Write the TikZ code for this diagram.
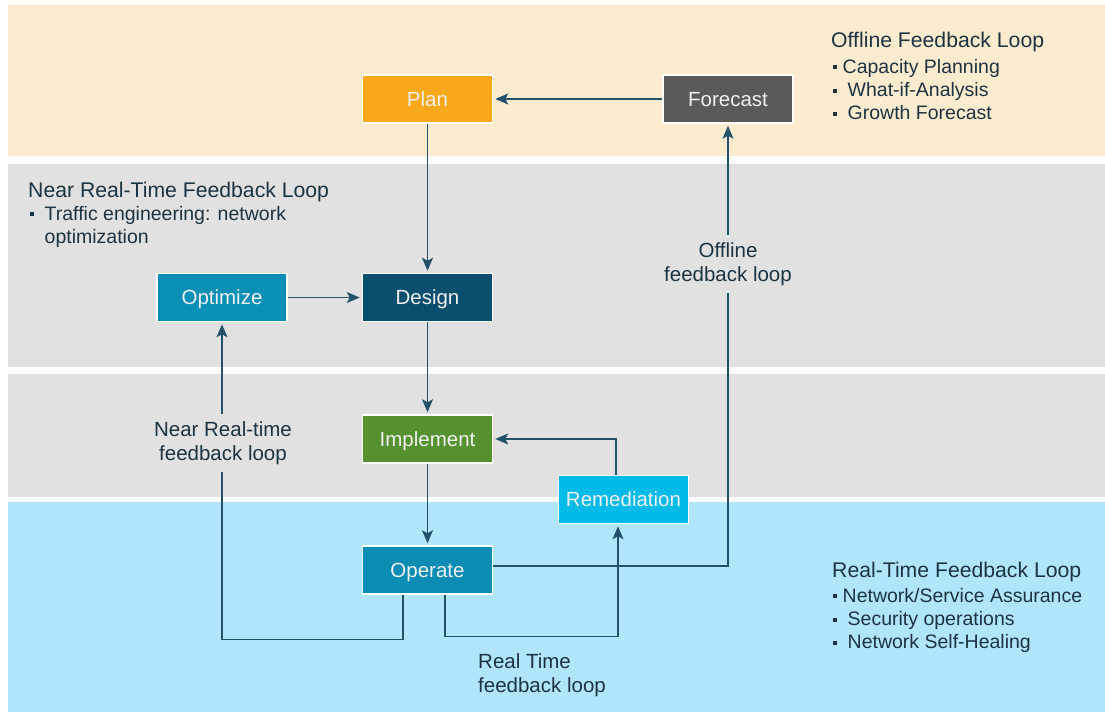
\documentclass[tikz,border=0pt]{standalone}
\usepackage{fontspec}
\setmainfont{Liberation Sans}
\usepackage{xcolor}
\usepackage{tikz}
\usetikzlibrary{arrows.meta,calc}

\definecolor{bgpeach}{HTML}{FDEBD0}
\definecolor{bggray}{HTML}{E1E1E1}
\definecolor{bgblue}{HTML}{B1E5FB}
\definecolor{cplan}{HTML}{F9A81B}
\definecolor{cfore}{HTML}{5A5A5A}
\definecolor{copt}{HTML}{0A8FB5}
\definecolor{cdes}{HTML}{0C4E6E}
\definecolor{cimpl}{HTML}{55912F}
\definecolor{crem}{HTML}{00BAE8}
\definecolor{cop}{HTML}{0A8CB3}
\definecolor{lnc}{HTML}{24516A}
\definecolor{txc}{HTML}{1C3342}

\newcommand{\bul}{\rule[0.2em]{4pt}{4pt}\hspace{5.5pt}}
\newcommand{\bulfont}{\fontsize{19.5}{23.3}\selectfont}
\newcommand{\headfont}{\fontsize{21.2}{24}\selectfont}

\begin{document}
\begin{tikzpicture}[
x=1pt,y=-1pt,
font=\fontsize{20.5}{24}\selectfont,
>={Stealth[length=13pt,width=11pt,inset=3pt]},
box/.style={
    rectangle,minimum width=130pt,minimum height=48pt,draw=white,line width=1.5pt,text=white!94!black,text height=14pt,text depth=0pt
},
conn/.style={
    ->,line width=1.3pt,draw=lnc,shorten >=2pt
},
lbl/.style={
    align=center,text=txc,fill=bggray,inner xsep=2pt,inner ysep=7pt
},
info/.style={
    align=left,text=txc,anchor=north west,inner sep=0pt
}
]
    \useasboundingbox (0,0) rectangle (1105,712);
    \fill[bgpeach] (8,5) rectangle (1105,156);
    \fill[bggray] (8,164) rectangle (1105,367);
    \fill[bggray] (8,374) rectangle (1105,497);
    \fill[bgblue] (8,502) rectangle (1105,712);

    \node(Plan)[box,fill=cplan] at (427.5,99){Plan};
    \node(Fore)[box,fill=cfore] at (728,99){Forecast};
    \node(Opt)[box,fill=copt] at (222,297.5){Optimize};
    \node(Des)[box,fill=cdes] at (427.5,297.5){Design};
    \node(Impl)[box,fill=cimpl] at (427.5,439){Implement};
    \node(Rem)[box,fill=crem] at (623.5,499.5){Remediation};
    \node(Op)[box,fill=cop] at (427.5,570){Operate};

    \draw[conn] (Fore.west) -- (Plan.east);
    \draw[conn] (Plan.south) -- (Des.north);
    \draw[conn] (Opt.east) -- (Des.west);
    \draw[conn] (Des.south) -- (Impl.north);
    \draw[conn] (Impl.south) -- (Op.north);
    \draw[conn] ([xshift=-7.5pt]Rem.north) |- (Impl.east);
    \draw[conn] ([xshift=17.5pt]Op.south) -- ++(0,42) -| ([xshift=-5.5pt]Rem.south);
    \draw[conn] ([xshift=-24.5pt]Op.south) -- ++(0,45) -| (Opt.south);
    \draw[conn] ([yshift=4pt]Op.east) -| (Fore.south);

    \node(OffL)[lbl] at (728,264){Offline\\feedback loop};
    \node(NrtL)[lbl] at (223,443){Near Real-time\\feedback loop};
    \node(RtL)[info] at (478,653){Real Time\\feedback loop};

    \node(OffH)[info,font=\headfont] at (831,32){Offline Feedback Loop};
    \node(OffB)[info,font=\bulfont] at (833,59){\bul Capacity Planning\\\bul\hspace{5pt}What-if-Analysis\\\bul\hspace{5pt}Growth Forecast};
    \node(NrtH)[info,font=\headfont] at (28,182){Near Real-Time Feedback Loop};
    \node(NrtB)[info,font=\bulfont] at (30,206){\bul\hspace{5pt}Traffic engineering: network\\\hphantom{\bul\hspace{5pt}}optimization};
    \node(RtH)[info,font=\headfont] at (832,562){Real-Time Feedback Loop};
    \node(RtB)[info,font=\bulfont] at (833,588){\bul Network/Service Assurance\\\bul\hspace{5pt}Security operations\\\bul\hspace{5pt}Network Self-Healing};
\end{tikzpicture}
\end{document}
